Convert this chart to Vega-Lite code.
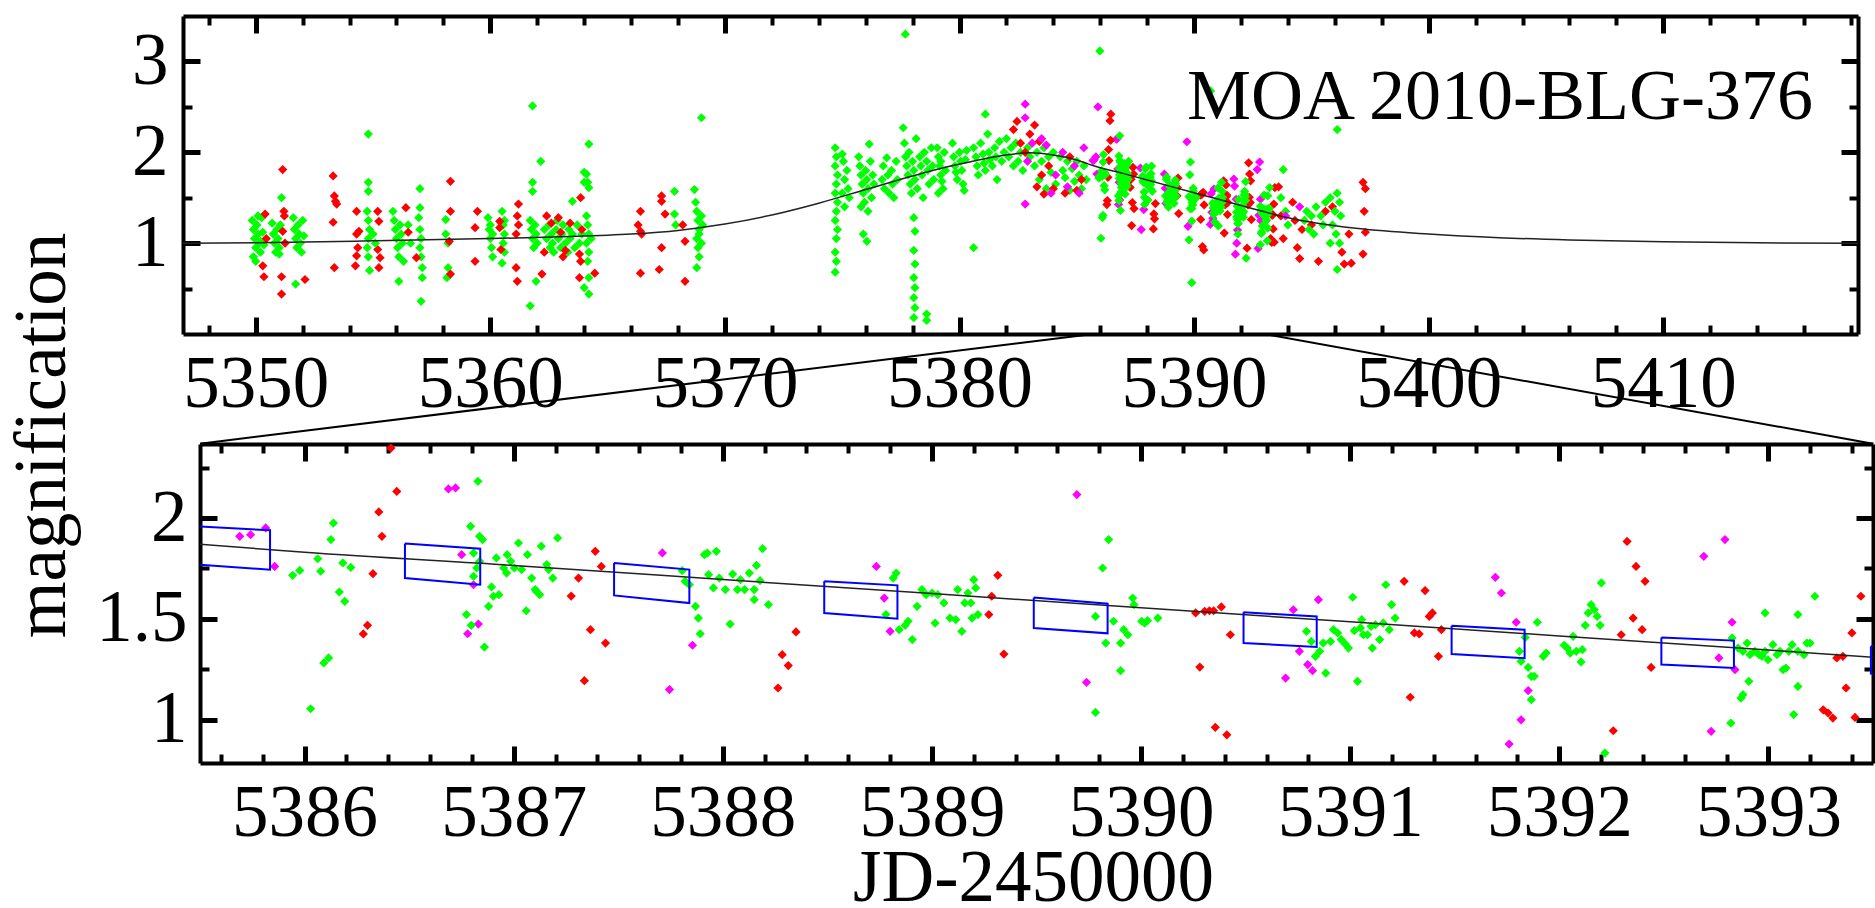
{
"$schema":"https://vega.github.io/schema/vega-lite/v6.json",
"background":"white",
"padding":{"left":6,"top":13,"right":0,"bottom":0},
"config":{"view":{"stroke":null}},
"datasets":{
"model":[{"t":5346.9,"m":1.0},{"t":5350,"m":1.005},{"t":5355,"m":1.025},{"t":5360,"m":1.05},{"t":5363,"m":1.07},{"t":5366,"m":1.1},{"t":5368,"m":1.14},{"t":5370,"m":1.21},{"t":5372,"m":1.31},{"t":5374,"m":1.44},{"t":5376,"m":1.59},{"t":5378,"m":1.74},{"t":5380,"m":1.87},{"t":5382,"m":1.97},{"t":5383,"m":1.995},{"t":5384,"m":1.97},{"t":5385,"m":1.915},{"t":5385.5,"m":1.87},{"t":5386,"m":1.83},{"t":5387,"m":1.765},{"t":5388,"m":1.695},{"t":5389,"m":1.625},{"t":5390,"m":1.555},{"t":5391,"m":1.485},{"t":5392,"m":1.415},{"t":5393,"m":1.345},{"t":5393.5,"m":1.31},{"t":5395,"m":1.23},{"t":5397,"m":1.16},{"t":5400,"m":1.1},{"t":5403,"m":1.06},{"t":5406,"m":1.035},{"t":5410,"m":1.015},{"t":5414,"m":1.003},{"t":5418.3,"m":1.0}],
"links":[{"t":5385.7,"m":0,"t2":5347.625,"m2":-1.2074},{"t":5393.0,"m":0,"t2":5418.94,"m2":-1.2074}],
"lbl":[{"t":5416.38,"m":2.363,"txt":"MOA 2010-BLG-376"}],
"boxes":[
{"b":1,"o":0,"t":5385.48,"m":1.959},{"b":1,"o":1,"t":5385.835,"m":1.939},{"b":1,"o":2,"t":5385.835,"m":1.744},{"b":1,"o":3,"t":5385.48,"m":1.769},{"b":1,"o":4,"t":5385.48,"m":1.959},
{"b":2,"o":0,"t":5386.48,"m":1.873},{"b":2,"o":1,"t":5386.84,"m":1.848},{"b":2,"o":2,"t":5386.84,"m":1.669},{"b":2,"o":3,"t":5386.48,"m":1.702},{"b":2,"o":4,"t":5386.48,"m":1.873},
{"b":3,"o":0,"t":5387.48,"m":1.777},{"b":3,"o":1,"t":5387.84,"m":1.744},{"b":3,"o":2,"t":5387.84,"m":1.578},{"b":3,"o":3,"t":5387.48,"m":1.616},{"b":3,"o":4,"t":5387.48,"m":1.777},
{"b":4,"o":0,"t":5388.485,"m":1.686},{"b":4,"o":1,"t":5388.835,"m":1.666},{"b":4,"o":2,"t":5388.835,"m":1.501},{"b":4,"o":3,"t":5388.485,"m":1.529},{"b":4,"o":4,"t":5388.485,"m":1.686},
{"b":5,"o":0,"t":5389.487,"m":1.606},{"b":5,"o":1,"t":5389.84,"m":1.575},{"b":5,"o":2,"t":5389.84,"m":1.428},{"b":5,"o":3,"t":5389.487,"m":1.454},{"b":5,"o":4,"t":5389.487,"m":1.606},
{"b":6,"o":0,"t":5390.49,"m":1.532},{"b":6,"o":1,"t":5390.84,"m":1.512},{"b":6,"o":2,"t":5390.84,"m":1.36},{"b":6,"o":3,"t":5390.49,"m":1.38},{"b":6,"o":4,"t":5390.49,"m":1.532},
{"b":7,"o":0,"t":5391.485,"m":1.466},{"b":7,"o":1,"t":5391.834,"m":1.446},{"b":7,"o":2,"t":5391.834,"m":1.305},{"b":7,"o":3,"t":5391.485,"m":1.325},{"b":7,"o":4,"t":5391.485,"m":1.466},
{"b":8,"o":0,"t":5392.488,"m":1.408},{"b":8,"o":1,"t":5392.835,"m":1.392},{"b":8,"o":2,"t":5392.835,"m":1.256},{"b":8,"o":3,"t":5392.488,"m":1.273},{"b":8,"o":4,"t":5392.488,"m":1.408},
{"b":9,"o":0,"t":5393.49,"m":1.364},{"b":9,"o":1,"t":5393.84,"m":1.35},{"b":9,"o":2,"t":5393.84,"m":1.21},{"b":9,"o":3,"t":5393.49,"m":1.228},{"b":9,"o":4,"t":5393.49,"m":1.364}],
"obs":[
{"t":5385.98,"m":3.115,"s":"G"},{"t":5390.7,"m":2.675,"s":"G"},{"t":5386.45,"m":2.42,"s":"R"},{"t":5389.9,"m":0.565,"s":"G"},{"t":5385.9,"m":2.5,"s":"M"},
{"t":5349.85,"m":1.25,"s":"G"},{"t":5349.9,"m":1.15,"s":"G"},{"t":5349.95,"m":1.05,"s":"G"},{"t":5350.0,"m":0.95,"s":"G"},{"t":5350.05,"m":1.2,"s":"G"},{"t":5350.1,"m":1.1,"s":"G"},{"t":5350.15,"m":1.0,"s":"G"},{"t":5350.2,"m":0.9,"s":"G"},{"t":5350.25,"m":1.28,"s":"G"},{"t":5350.3,"m":1.12,"s":"G"},{"t":5349.9,"m":0.85,"s":"G"},{"t":5350.0,"m":0.8,"s":"G"},{"t":5350.1,"m":1.3,"s":"G"},{"t":5350.2,"m":1.02,"s":"G"},{"t":5350.35,"m":0.98,"s":"G"},
{"t":5350.4,"m":1.32,"s":"R"},{"t":5350.3,"m":0.75,"s":"R"},{"t":5350.35,"m":0.63,"s":"R"},{"t":5350.45,"m":1.05,"s":"R"},
{"t":5350.7,"m":1.22,"s":"G"},{"t":5350.75,"m":1.1,"s":"G"},{"t":5350.8,"m":1.0,"s":"G"},{"t":5350.85,"m":0.9,"s":"G"},{"t":5350.9,"m":1.15,"s":"G"},{"t":5350.95,"m":1.05,"s":"G"},{"t":5351.0,"m":0.95,"s":"G"},{"t":5351.05,"m":1.2,"s":"G"},{"t":5351.1,"m":1.5,"s":"G"},{"t":5351.0,"m":0.88,"s":"G"},
{"t":5351.15,"m":1.81,"s":"R"},{"t":5351.2,"m":1.35,"s":"R"},{"t":5351.22,"m":1.3,"s":"R"},{"t":5351.15,"m":1.13,"s":"R"},{"t":5351.1,"m":0.63,"s":"R"},{"t":5351.1,"m":0.44,"s":"R"},{"t":5351.25,"m":1.0,"s":"R"},
{"t":5351.6,"m":1.28,"s":"G"},{"t":5351.65,"m":1.15,"s":"G"},{"t":5351.7,"m":1.05,"s":"G"},{"t":5351.75,"m":0.95,"s":"G"},{"t":5351.8,"m":1.2,"s":"G"},{"t":5351.85,"m":1.1,"s":"G"},{"t":5351.9,"m":1.0,"s":"G"},{"t":5351.95,"m":0.9,"s":"G"},{"t":5351.7,"m":0.55,"s":"G"},{"t":5352.0,"m":1.25,"s":"G"},{"t":5352.05,"m":1.08,"s":"G"},
{"t":5352.1,"m":0.6,"s":"R"},
{"t":5353.3,"m":1.74,"s":"R"},{"t":5353.35,"m":1.52,"s":"R"},{"t":5353.4,"m":1.46,"s":"R"},{"t":5353.45,"m":1.43,"s":"R"},{"t":5353.3,"m":1.23,"s":"R"},{"t":5353.35,"m":0.73,"s":"R"},
{"t":5354.3,"m":1.35,"s":"R"},{"t":5354.3,"m":1.1,"s":"R"},{"t":5354.35,"m":0.95,"s":"R"},{"t":5354.3,"m":0.86,"s":"R"},{"t":5354.25,"m":0.75,"s":"R"},{"t":5354.4,"m":1.13,"s":"R"},{"t":5355.2,"m":1.35,"s":"R"},{"t":5355.25,"m":1.24,"s":"R"},{"t":5355.2,"m":0.93,"s":"R"},{"t":5355.3,"m":0.84,"s":"R"},{"t":5355.25,"m":0.73,"s":"R"},
{"t":5354.8,"m":2.2,"s":"G"},{"t":5354.8,"m":1.67,"s":"G"},{"t":5354.8,"m":1.57,"s":"G"},{"t":5354.75,"m":1.35,"s":"G"},{"t":5354.8,"m":1.25,"s":"G"},{"t":5354.85,"m":1.15,"s":"G"},{"t":5354.8,"m":1.05,"s":"G"},{"t":5354.75,"m":0.95,"s":"G"},{"t":5354.8,"m":0.85,"s":"G"},{"t":5354.85,"m":0.7,"s":"G"},{"t":5355.0,"m":1.1,"s":"G"},{"t":5355.1,"m":1.0,"s":"G"},
{"t":5355.85,"m":1.35,"s":"G"},{"t":5355.9,"m":1.25,"s":"G"},{"t":5355.95,"m":1.15,"s":"G"},{"t":5356.0,"m":1.05,"s":"G"},{"t":5356.05,"m":0.95,"s":"G"},{"t":5356.1,"m":0.85,"s":"G"},{"t":5356.15,"m":1.2,"s":"G"},{"t":5356.2,"m":1.1,"s":"G"},{"t":5356.25,"m":1.0,"s":"G"},{"t":5356.3,"m":0.8,"s":"G"},{"t":5356.1,"m":0.58,"s":"G"},{"t":5357.0,"m":1.6,"s":"G"},{"t":5357.0,"m":1.39,"s":"G"},{"t":5356.95,"m":1.28,"s":"G"},{"t":5357.0,"m":1.15,"s":"G"},{"t":5357.05,"m":1.05,"s":"G"},{"t":5357.0,"m":0.95,"s":"G"},{"t":5357.05,"m":0.85,"s":"G"},{"t":5357.1,"m":0.73,"s":"G"},{"t":5357.1,"m":0.62,"s":"G"},{"t":5357.05,"m":0.36,"s":"G"},{"t":5356.5,"m":1.2,"s":"G"},{"t":5356.6,"m":1.0,"s":"G"},
{"t":5356.4,"m":1.39,"s":"R"},{"t":5356.85,"m":0.84,"s":"R"},{"t":5356.5,"m":1.12,"s":"R"},
{"t":5358.1,"m":1.26,"s":"G"},{"t":5358.1,"m":1.1,"s":"G"},{"t":5358.2,"m":0.73,"s":"G"},{"t":5358.15,"m":0.62,"s":"G"},{"t":5358.2,"m":1.0,"s":"G"},
{"t":5358.3,"m":1.68,"s":"R"},{"t":5358.3,"m":1.35,"s":"R"},{"t":5358.25,"m":1.02,"s":"R"},{"t":5358.3,"m":0.66,"s":"R"},
{"t":5359.45,"m":1.35,"s":"R"},{"t":5359.35,"m":1.17,"s":"R"},{"t":5359.35,"m":0.8,"s":"R"},
{"t":5359.9,"m":1.28,"s":"G"},{"t":5359.95,"m":1.15,"s":"G"},{"t":5360.0,"m":1.05,"s":"G"},{"t":5360.05,"m":0.95,"s":"G"},{"t":5360.1,"m":0.85,"s":"G"},{"t":5360.0,"m":1.2,"s":"G"},{"t":5360.1,"m":1.1,"s":"G"},{"t":5360.5,"m":1.35,"s":"G"},{"t":5360.55,"m":1.2,"s":"G"},{"t":5360.6,"m":1.1,"s":"G"},{"t":5360.55,"m":1.0,"s":"G"},{"t":5360.6,"m":0.9,"s":"G"},{"t":5360.5,"m":0.78,"s":"G"},{"t":5360.6,"m":1.25,"s":"G"},
{"t":5360.4,"m":1.24,"s":"R"},{"t":5360.4,"m":1.17,"s":"R"},{"t":5360.45,"m":0.93,"s":"R"},{"t":5361.2,"m":1.43,"s":"R"},{"t":5361.15,"m":1.3,"s":"R"},{"t":5361.2,"m":1.2,"s":"R"},{"t":5361.1,"m":1.1,"s":"R"},{"t":5361.1,"m":0.73,"s":"R"},{"t":5361.15,"m":0.58,"s":"R"},
{"t":5361.8,"m":2.51,"s":"G"},{"t":5361.8,"m":1.67,"s":"G"},{"t":5361.8,"m":1.57,"s":"G"},{"t":5361.7,"m":0.31,"s":"G"},{"t":5362.15,"m":1.9,"s":"G"},{"t":5361.95,"m":0.58,"s":"G"},
{"t":5361.7,"m":1.25,"s":"G"},{"t":5361.75,"m":1.15,"s":"G"},{"t":5361.8,"m":1.05,"s":"G"},{"t":5361.85,"m":0.95,"s":"G"},{"t":5361.9,"m":1.2,"s":"G"},{"t":5361.95,"m":1.1,"s":"G"},{"t":5362.0,"m":1.0,"s":"G"},{"t":5362.3,"m":1.15,"s":"G"},{"t":5362.4,"m":1.05,"s":"G"},{"t":5362.5,"m":1.2,"s":"G"},{"t":5362.55,"m":0.95,"s":"G"},{"t":5362.6,"m":1.1,"s":"G"},{"t":5362.65,"m":1.0,"s":"G"},{"t":5362.7,"m":0.9,"s":"G"},{"t":5362.8,"m":1.15,"s":"G"},{"t":5362.85,"m":1.25,"s":"G"},{"t":5362.9,"m":1.05,"s":"G"},{"t":5363.0,"m":0.95,"s":"G"},{"t":5363.05,"m":1.1,"s":"G"},{"t":5363.1,"m":1.2,"s":"G"},{"t":5363.2,"m":1.0,"s":"G"},{"t":5363.3,"m":0.9,"s":"G"},{"t":5363.35,"m":1.15,"s":"G"},{"t":5363.4,"m":1.05,"s":"G"},{"t":5363.5,"m":1.46,"s":"G"},{"t":5363.5,"m":1.1,"s":"G"},{"t":5363.6,"m":0.95,"s":"G"},{"t":5363.7,"m":1.2,"s":"G"},{"t":5363.8,"m":1.0,"s":"G"},{"t":5363.9,"m":1.1,"s":"G"},{"t":5364.0,"m":1.78,"s":"G"},{"t":5364.0,"m":1.67,"s":"G"},{"t":5364.1,"m":1.76,"s":"G"},{"t":5364.15,"m":1.67,"s":"G"},{"t":5364.2,"m":1.61,"s":"G"},{"t":5364.2,"m":2.09,"s":"G"},{"t":5364.1,"m":1.3,"s":"G"},{"t":5364.15,"m":1.2,"s":"G"},{"t":5364.2,"m":1.1,"s":"G"},{"t":5364.1,"m":1.0,"s":"G"},{"t":5364.2,"m":0.9,"s":"G"},{"t":5364.15,"m":0.8,"s":"G"},{"t":5364.2,"m":0.62,"s":"G"},{"t":5364.2,"m":0.44,"s":"G"},{"t":5364.0,"m":0.51,"s":"G"},{"t":5364.3,"m":1.05,"s":"G"},
{"t":5362.2,"m":0.66,"s":"R"},{"t":5362.4,"m":1.3,"s":"R"},{"t":5362.6,"m":1.22,"s":"R"},{"t":5362.9,"m":1.28,"s":"R"},{"t":5363.0,"m":1.12,"s":"R"},{"t":5363.2,"m":0.92,"s":"R"},{"t":5363.4,"m":1.22,"s":"R"},{"t":5363.85,"m":1.5,"s":"R"},{"t":5363.8,"m":0.88,"s":"R"},{"t":5363.85,"m":0.8,"s":"R"},{"t":5363.8,"m":0.62,"s":"R"},{"t":5363.9,"m":1.15,"s":"R"},{"t":5364.45,"m":0.67,"s":"R"},{"t":5362.3,"m":0.9,"s":"R"},{"t":5363.1,"m":0.85,"s":"R"},
{"t":5366.4,"m":1.35,"s":"R"},{"t":5366.4,"m":1.13,"s":"R"},{"t":5366.45,"m":1.1,"s":"R"},{"t":5366.4,"m":0.67,"s":"R"},{"t":5366.3,"m":1.2,"s":"R"},
{"t":5367.3,"m":1.52,"s":"R"},{"t":5367.3,"m":1.46,"s":"R"},{"t":5367.45,"m":1.32,"s":"R"},{"t":5367.3,"m":0.95,"s":"R"},{"t":5367.2,"m":0.71,"s":"R"},{"t":5367.85,"m":1.57,"s":"G"},{"t":5367.85,"m":1.32,"s":"G"},{"t":5367.9,"m":1.2,"s":"G"},
{"t":5368.3,"m":1.02,"s":"R"},{"t":5368.3,"m":0.58,"s":"R"},{"t":5368.2,"m":1.2,"s":"R"},
{"t":5368.7,"m":1.59,"s":"G"},{"t":5368.75,"m":1.45,"s":"G"},{"t":5368.8,"m":1.35,"s":"G"},{"t":5368.85,"m":1.25,"s":"G"},{"t":5368.9,"m":1.15,"s":"G"},{"t":5368.8,"m":1.05,"s":"G"},{"t":5368.85,"m":0.95,"s":"G"},{"t":5368.9,"m":0.85,"s":"G"},{"t":5368.8,"m":0.73,"s":"G"},{"t":5369.0,"m":1.3,"s":"G"},{"t":5369.05,"m":1.2,"s":"G"},{"t":5369.0,"m":2.38,"s":"G"},{"t":5368.9,"m":1.1,"s":"G"},{"t":5369.0,"m":1.0,"s":"G"},
{"t":5374.7,"m":2.05,"s":"G"},{"t":5374.75,"m":1.95,"s":"G"},{"t":5374.7,"m":1.85,"s":"G"},{"t":5374.8,"m":1.75,"s":"G"},{"t":5374.75,"m":1.65,"s":"G"},{"t":5374.7,"m":1.55,"s":"G"},{"t":5374.8,"m":1.45,"s":"G"},{"t":5374.75,"m":1.35,"s":"G"},{"t":5374.7,"m":1.25,"s":"G"},{"t":5374.8,"m":1.15,"s":"G"},{"t":5374.75,"m":1.05,"s":"G"},{"t":5374.7,"m":0.9,"s":"G"},{"t":5374.75,"m":0.8,"s":"G"},{"t":5374.7,"m":0.68,"s":"G"},{"t":5375.0,"m":1.98,"s":"G"},{"t":5375.05,"m":1.9,"s":"G"},{"t":5375.1,"m":1.7,"s":"G"},{"t":5375.0,"m":1.55,"s":"G"},{"t":5375.1,"m":1.4,"s":"G"},{"t":5375.2,"m":1.8,"s":"G"},{"t":5375.25,"m":1.6,"s":"G"},{"t":5375.3,"m":1.5,"s":"G"},
{"t":5375.7,"m":1.95,"s":"G"},{"t":5375.75,"m":1.85,"s":"G"},{"t":5375.8,"m":1.75,"s":"G"},{"t":5375.85,"m":1.65,"s":"G"},{"t":5375.9,"m":1.55,"s":"G"},{"t":5375.95,"m":1.45,"s":"G"},{"t":5376.0,"m":1.8,"s":"G"},{"t":5376.05,"m":1.7,"s":"G"},{"t":5376.1,"m":1.6,"s":"G"},{"t":5376.15,"m":2.09,"s":"G"},{"t":5376.2,"m":1.9,"s":"G"},{"t":5376.25,"m":1.5,"s":"G"},{"t":5376.3,"m":1.75,"s":"G"},{"t":5376.35,"m":1.65,"s":"G"},{"t":5375.9,"m":1.1,"s":"G"},{"t":5376.05,"m":1.02,"s":"G"},{"t":5376.1,"m":1.35,"s":"G"},{"t":5375.8,"m":1.4,"s":"G"},
{"t":5376.7,"m":1.7,"s":"G"},{"t":5376.75,"m":1.85,"s":"G"},{"t":5376.8,"m":1.6,"s":"G"},{"t":5376.9,"m":1.94,"s":"G"},{"t":5376.95,"m":1.75,"s":"G"},{"t":5377.0,"m":1.55,"s":"G"},{"t":5377.1,"m":1.8,"s":"G"},{"t":5377.15,"m":1.65,"s":"G"},{"t":5377.2,"m":1.5,"s":"G"},{"t":5377.3,"m":1.9,"s":"G"},{"t":5377.35,"m":1.7,"s":"G"},
{"t":5377.6,"m":2.27,"s":"G"},{"t":5377.65,"m":2.1,"s":"G"},{"t":5377.7,"m":1.95,"s":"G"},{"t":5377.75,"m":1.85,"s":"G"},{"t":5377.8,"m":1.75,"s":"G"},{"t":5377.85,"m":2.0,"s":"G"},{"t":5377.9,"m":1.65,"s":"G"},{"t":5377.95,"m":1.55,"s":"G"},{"t":5378.0,"m":1.9,"s":"G"},{"t":5378.05,"m":1.8,"s":"G"},{"t":5378.1,"m":1.7,"s":"G"},{"t":5378.15,"m":2.15,"s":"G"},{"t":5378.2,"m":1.6,"s":"G"},{"t":5378.3,"m":1.95,"s":"G"},{"t":5378.35,"m":1.85,"s":"G"},{"t":5378.4,"m":1.75,"s":"G"},{"t":5378.45,"m":1.5,"s":"G"},{"t":5378.5,"m":2.0,"s":"G"},{"t":5378.6,"m":1.9,"s":"G"},{"t":5378.65,"m":1.8,"s":"G"},{"t":5378.7,"m":1.65,"s":"G"},{"t":5378.8,"m":2.05,"s":"G"},{"t":5378.85,"m":1.85,"s":"G"},{"t":5378.9,"m":1.7,"s":"G"},{"t":5377.69,"m":3.3,"s":"G"},
{"t":5378.05,"m":1.28,"s":"G"},{"t":5378.1,"m":1.13,"s":"G"},{"t":5378.05,"m":0.92,"s":"G"},{"t":5378.1,"m":0.77,"s":"G"},{"t":5378.05,"m":0.62,"s":"G"},{"t":5378.1,"m":0.51,"s":"G"},{"t":5378.05,"m":0.4,"s":"G"},{"t":5378.1,"m":0.29,"s":"G"},{"t":5378.05,"m":0.18,"s":"G"},{"t":5378.6,"m":0.22,"s":"G"},{"t":5378.6,"m":0.15,"s":"G"},
{"t":5379.05,"m":2.05,"s":"G"},{"t":5379.1,"m":1.95,"s":"G"},{"t":5379.15,"m":1.85,"s":"G"},{"t":5379.2,"m":1.75,"s":"G"},{"t":5379.25,"m":1.68,"s":"G"},{"t":5379.3,"m":1.6,"s":"G"},{"t":5379.1,"m":1.55,"s":"G"},{"t":5379.2,"m":1.9,"s":"G"},{"t":5379.35,"m":2.0,"s":"G"},{"t":5379.4,"m":1.8,"s":"G"},
{"t":5379.7,"m":2.1,"s":"G"},{"t":5379.75,"m":1.95,"s":"G"},{"t":5379.8,"m":1.85,"s":"G"},{"t":5379.85,"m":1.78,"s":"G"},{"t":5379.9,"m":1.7,"s":"G"},{"t":5380.0,"m":2.0,"s":"G"},{"t":5380.05,"m":1.9,"s":"G"},{"t":5380.1,"m":1.8,"s":"G"},{"t":5380.15,"m":1.65,"s":"G"},{"t":5380.2,"m":1.58,"s":"G"},{"t":5380.25,"m":1.92,"s":"G"},{"t":5380.3,"m":2.02,"s":"G"},
{"t":5380.6,"m":2.05,"s":"G"},{"t":5380.7,"m":1.95,"s":"G"},{"t":5380.75,"m":1.85,"s":"G"},{"t":5380.8,"m":1.75,"s":"G"},{"t":5380.9,"m":2.1,"s":"G"},{"t":5381.0,"m":1.98,"s":"G"},{"t":5381.05,"m":1.88,"s":"G"},{"t":5381.1,"m":1.8,"s":"G"},{"t":5381.2,"m":2.2,"s":"G"},{"t":5381.25,"m":2.0,"s":"G"},{"t":5381.3,"m":1.92,"s":"G"},{"t":5381.4,"m":1.85,"s":"G"},{"t":5381.5,"m":2.05,"s":"G"},{"t":5381.55,"m":1.95,"s":"G"},{"t":5381.6,"m":1.7,"s":"G"},{"t":5381.7,"m":2.12,"s":"G"},{"t":5381.8,"m":1.9,"s":"G"},{"t":5380.6,"m":0.95,"s":"G"},{"t":5381.1,"m":2.42,"s":"G"},
{"t":5381.9,"m":2.0,"s":"G"},{"t":5382.0,"m":2.15,"s":"G"},{"t":5382.1,"m":1.95,"s":"G"},{"t":5382.2,"m":2.05,"s":"G"},{"t":5382.3,"m":1.85,"s":"G"},{"t":5382.4,"m":2.1,"s":"G"},{"t":5382.5,"m":1.9,"s":"G"},{"t":5382.6,"m":2.0,"s":"G"},{"t":5382.7,"m":1.8,"s":"G"},{"t":5382.9,"m":2.05,"s":"G"},{"t":5383.0,"m":1.95,"s":"G"},
{"t":5382.3,"m":2.25,"s":"R"},{"t":5382.45,"m":2.34,"s":"R"},{"t":5382.6,"m":2.1,"s":"R"},{"t":5382.8,"m":2.0,"s":"R"},{"t":5383.0,"m":2.2,"s":"R"},{"t":5383.2,"m":2.3,"s":"R"},
{"t":5382.8,"m":2.53,"s":"M"},{"t":5382.8,"m":2.38,"s":"M"},{"t":5382.8,"m":1.43,"s":"M"},{"t":5382.9,"m":1.9,"s":"M"},{"t":5383.1,"m":2.1,"s":"M"},
{"t":5383.2,"m":1.85,"s":"G"},{"t":5383.3,"m":2.0,"s":"G"},{"t":5383.4,"m":1.7,"s":"G"},{"t":5383.5,"m":1.9,"s":"G"},{"t":5383.6,"m":2.05,"s":"G"},{"t":5383.7,"m":1.6,"s":"G"},{"t":5383.8,"m":1.95,"s":"G"},{"t":5383.9,"m":1.78,"s":"G"},{"t":5384.0,"m":2.0,"s":"G"},{"t":5384.1,"m":1.65,"s":"G"},
{"t":5383.3,"m":1.62,"s":"R"},{"t":5383.5,"m":1.75,"s":"R"},{"t":5383.6,"m":1.54,"s":"R"},{"t":5383.8,"m":1.85,"s":"R"},{"t":5384.0,"m":1.6,"s":"R"},{"t":5383.4,"m":2.12,"s":"R"},
{"t":5383.5,"m":2.15,"s":"M"},{"t":5383.7,"m":2.08,"s":"M"},{"t":5383.9,"m":1.55,"s":"M"},{"t":5384.1,"m":1.75,"s":"M"},
{"t":5384.3,"m":1.95,"s":"G"},{"t":5384.4,"m":1.8,"s":"G"},{"t":5384.5,"m":1.72,"s":"G"},{"t":5384.6,"m":1.9,"s":"G"},{"t":5384.7,"m":1.58,"s":"G"},{"t":5384.8,"m":1.82,"s":"G"},{"t":5384.9,"m":1.68,"s":"G"},{"t":5385.0,"m":1.9,"s":"G"},{"t":5385.1,"m":1.75,"s":"G"},{"t":5385.2,"m":1.6,"s":"G"},{"t":5385.3,"m":1.85,"s":"G"},{"t":5385.4,"m":1.7,"s":"G"},
{"t":5384.5,"m":1.55,"s":"R"},{"t":5384.7,"m":1.95,"s":"R"},{"t":5385.0,"m":1.58,"s":"R"},{"t":5385.2,"m":1.7,"s":"R"},
{"t":5384.4,"m":2.0,"s":"M"},{"t":5384.6,"m":1.62,"s":"M"},{"t":5384.9,"m":1.85,"s":"M"},{"t":5385.1,"m":1.55,"s":"M"},{"t":5385.3,"m":2.05,"s":"M"},
{"t":5385.69,"m":1.909,"s":"M"},{"t":5385.742,"m":1.917,"s":"M"},{"t":5385.814,"m":1.951,"s":"M"},{"t":5385.857,"m":1.76,"s":"M"},{"t":5386.751,"m":1.818,"s":"M"},{"t":5386.688,"m":2.144,"s":"M"},{"t":5386.722,"m":2.149,"s":"M"},{"t":5386.808,"m":1.669,"s":"M"},{"t":5386.831,"m":1.474,"s":"M"},{"t":5386.78,"m":1.426,"s":"M"},{"t":5387.711,"m":1.827,"s":"M"},{"t":5387.745,"m":1.149,"s":"M"},{"t":5387.855,"m":1.369,"s":"M"},{"t":5388.734,"m":1.76,"s":"M"},{"t":5388.772,"m":1.603,"s":"M"},{"t":5388.8,"m":1.438,"s":"M"},{"t":5389.693,"m":2.116,"s":"M"},{"t":5389.739,"m":1.185,"s":"M"},{"t":5390.728,"m":1.545,"s":"M"},{"t":5390.691,"m":1.206,"s":"M"},{"t":5390.757,"m":1.339,"s":"M"},{"t":5390.797,"m":1.273,"s":"M"},{"t":5390.82,"m":1.243,"s":"M"},{"t":5390.848,"m":1.595,"s":"M"},{"t":5391.694,"m":1.706,"s":"M"},{"t":5391.723,"m":1.628,"s":"M"},{"t":5391.794,"m":1.483,"s":"M"},{"t":5391.851,"m":1.144,"s":"M"},{"t":5391.817,"m":0.999,"s":"M"},{"t":5391.76,"m":0.879,"s":"M"},{"t":5392.691,"m":1.81,"s":"M"},{"t":5392.792,"m":1.893,"s":"M"},{"t":5392.826,"m":1.483,"s":"M"},{"t":5392.763,"m":1.306,"s":"M"},{"t":5392.84,"m":1.248,"s":"M"},{"t":5392.726,"m":0.942,"s":"M"},
{"t":5386.413,"m":2.347,"s":"R"},{"t":5386.441,"m":2.132,"s":"R"},{"t":5386.355,"m":2.03,"s":"R"},{"t":5386.37,"m":1.909,"s":"R"},{"t":5386.327,"m":1.724,"s":"R"},{"t":5386.301,"m":1.468,"s":"R"},{"t":5386.281,"m":1.425,"s":"R"},{"t":5387.31,"m":1.702,"s":"R"},{"t":5387.275,"m":1.613,"s":"R"},{"t":5387.39,"m":1.835,"s":"R"},{"t":5387.419,"m":1.76,"s":"R"},{"t":5387.367,"m":1.446,"s":"R"},{"t":5387.439,"m":1.38,"s":"R"},{"t":5387.338,"m":1.193,"s":"R"},{"t":5388.284,"m":1.322,"s":"R"},{"t":5388.313,"m":1.268,"s":"R"},{"t":5388.264,"m":1.157,"s":"R"},{"t":5388.35,"m":1.435,"s":"R"},{"t":5389.315,"m":1.716,"s":"R"},{"t":5389.286,"m":1.612,"s":"R"},{"t":5389.272,"m":1.521,"s":"R"},{"t":5389.344,"m":1.325,"s":"R"},{"t":5390.261,"m":1.529,"s":"R"},{"t":5390.304,"m":1.537,"s":"R"},{"t":5390.327,"m":1.54,"s":"R"},{"t":5390.347,"m":1.54,"s":"R"},{"t":5390.384,"m":1.559,"s":"R"},{"t":5390.427,"m":1.421,"s":"R"},{"t":5390.281,"m":1.261,"s":"R"},{"t":5390.355,"m":0.962,"s":"R"},{"t":5390.41,"m":0.925,"s":"R"},{"t":5391.258,"m":1.686,"s":"R"},{"t":5391.358,"m":1.64,"s":"R"},{"t":5391.378,"m":1.512,"s":"R"},{"t":5391.393,"m":1.529,"s":"R"},{"t":5391.307,"m":1.43,"s":"R"},{"t":5391.33,"m":1.425,"s":"R"},{"t":5391.436,"m":1.446,"s":"R"},{"t":5391.422,"m":1.314,"s":"R"},{"t":5391.287,"m":1.111,"s":"R"},{"t":5392.324,"m":1.884,"s":"R"},{"t":5392.367,"m":1.76,"s":"R"},{"t":5392.41,"m":1.686,"s":"R"},{"t":5392.353,"m":1.504,"s":"R"},{"t":5392.396,"m":1.446,"s":"R"},{"t":5392.296,"m":1.421,"s":"R"},{"t":5392.439,"m":1.259,"s":"R"},{"t":5392.258,"m":0.945,"s":"R"},{"t":5393.327,"m":1.306,"s":"R"},{"t":5393.356,"m":1.314,"s":"R"},{"t":5393.399,"m":1.43,"s":"R"},{"t":5393.442,"m":1.612,"s":"R"},{"t":5393.371,"m":1.157,"s":"R"},{"t":5393.262,"m":1.049,"s":"R"},{"t":5393.285,"m":1.033,"s":"R"},{"t":5393.308,"m":1.008,"s":"R"},{"t":5393.414,"m":1.011,"s":"R"},
{"t":5386.029,"m":1.054,"s":"G"},{"t":5386.092,"m":1.281,"s":"G"},{"t":5386.115,"m":1.306,"s":"G"},{"t":5385.943,"m":1.716,"s":"G"},{"t":5385.977,"m":1.74,"s":"G"},{"t":5386.063,"m":1.798,"s":"G"},{"t":5386.077,"m":1.736,"s":"G"},{"t":5386.138,"m":1.975,"s":"G"},{"t":5386.126,"m":1.893,"s":"G"},{"t":5386.183,"m":1.777,"s":"G"},{"t":5386.221,"m":1.755,"s":"G"},{"t":5386.166,"m":1.633,"s":"G"},{"t":5386.192,"m":1.587,"s":"G"},{"t":5386.829,"m":2.182,"s":"G"},{"t":5386.794,"m":1.959,"s":"G"},{"t":5386.837,"m":1.909,"s":"G"},{"t":5386.851,"m":1.893,"s":"G"},{"t":5386.808,"m":1.826,"s":"G"},{"t":5386.837,"m":1.785,"s":"G"},{"t":5386.823,"m":1.752,"s":"G"},{"t":5386.808,"m":1.711,"s":"G"},{"t":5386.774,"m":1.521,"s":"G"},{"t":5386.797,"m":1.468,"s":"G"},{"t":5386.86,"m":1.36,"s":"G"},{"t":5386.88,"m":1.562,"s":"G"},{"t":5386.903,"m":1.612,"s":"G"},{"t":5386.894,"m":1.658,"s":"G"},{"t":5386.929,"m":1.62,"s":"G"},{"t":5386.917,"m":1.802,"s":"G"},{"t":5386.952,"m":1.752,"s":"G"},{"t":5386.969,"m":1.818,"s":"G"},{"t":5386.986,"m":1.785,"s":"G"},{"t":5387.003,"m":1.752,"s":"G"},{"t":5387.023,"m":1.876,"s":"G"},{"t":5387.038,"m":1.744,"s":"G"},{"t":5387.066,"m":1.818,"s":"G"},{"t":5387.086,"m":1.702,"s":"G"},{"t":5387.103,"m":1.645,"s":"G"},{"t":5387.124,"m":1.62,"s":"G"},{"t":5387.132,"m":1.86,"s":"G"},{"t":5387.158,"m":1.769,"s":"G"},{"t":5387.167,"m":1.744,"s":"G"},{"t":5387.187,"m":1.702,"s":"G"},{"t":5387.21,"m":1.901,"s":"G"},{"t":5387.06,"m":1.54,"s":"G"},{"t":5387.109,"m":1.636,"s":"G"},{"t":5386.966,"m":1.727,"s":"G"},
{"t":5387.806,"m":1.739,"s":"G"},{"t":5387.82,"m":1.686,"s":"G"},{"t":5387.84,"m":1.669,"s":"G"},{"t":5387.869,"m":1.562,"s":"G"},{"t":5387.883,"m":1.504,"s":"G"},{"t":5387.892,"m":1.426,"s":"G"},{"t":5387.912,"m":1.818,"s":"G"},{"t":5387.926,"m":1.826,"s":"G"},{"t":5387.969,"m":1.835,"s":"G"},{"t":5387.932,"m":1.719,"s":"G"},{"t":5387.955,"m":1.653,"s":"G"},{"t":5387.983,"m":1.702,"s":"G"},{"t":5388.012,"m":1.645,"s":"G"},{"t":5388.035,"m":1.474,"s":"G"},{"t":5388.047,"m":1.722,"s":"G"},{"t":5388.07,"m":1.645,"s":"G"},{"t":5388.084,"m":1.694,"s":"G"},{"t":5388.104,"m":1.645,"s":"G"},{"t":5388.127,"m":1.727,"s":"G"},{"t":5388.15,"m":1.645,"s":"G"},{"t":5388.161,"m":1.765,"s":"G"},{"t":5388.178,"m":1.689,"s":"G"},{"t":5388.19,"m":1.848,"s":"G"},{"t":5388.218,"m":1.57,"s":"G"},{"t":5388.15,"m":1.595,"s":"G"},
{"t":5388.829,"m":1.727,"s":"G"},{"t":5388.815,"m":1.702,"s":"G"},{"t":5388.78,"m":1.521,"s":"G"},{"t":5388.843,"m":1.446,"s":"G"},{"t":5388.872,"m":1.468,"s":"G"},{"t":5388.906,"m":1.397,"s":"G"},{"t":5388.886,"m":1.488,"s":"G"},{"t":5388.952,"m":1.645,"s":"G"},{"t":5388.972,"m":1.62,"s":"G"},{"t":5389.001,"m":1.628,"s":"G"},{"t":5388.929,"m":1.562,"s":"G"},{"t":5389.015,"m":1.479,"s":"G"},{"t":5389.028,"m":1.62,"s":"G"},{"t":5389.057,"m":1.579,"s":"G"},{"t":5389.086,"m":1.504,"s":"G"},{"t":5389.114,"m":1.496,"s":"G"},{"t":5389.123,"m":1.645,"s":"G"},{"t":5389.143,"m":1.438,"s":"G"},{"t":5389.157,"m":1.579,"s":"G"},{"t":5389.172,"m":1.628,"s":"G"},{"t":5389.192,"m":1.504,"s":"G"},{"t":5389.2,"m":1.694,"s":"G"},{"t":5389.209,"m":1.653,"s":"G"},{"t":5389.22,"m":1.521,"s":"G"},{"t":5389.186,"m":1.579,"s":"G"},
{"t":5389.845,"m":1.893,"s":"G"},{"t":5389.816,"m":1.752,"s":"G"},{"t":5389.782,"m":1.512,"s":"G"},{"t":5389.831,"m":1.38,"s":"G"},{"t":5389.868,"m":1.488,"s":"G"},{"t":5389.902,"m":1.38,"s":"G"},{"t":5389.782,"m":1.036,"s":"G"},{"t":5389.902,"m":1.243,"s":"G"},{"t":5389.917,"m":1.446,"s":"G"},{"t":5389.937,"m":1.421,"s":"G"},{"t":5389.96,"m":1.603,"s":"G"},{"t":5389.966,"m":1.57,"s":"G"},{"t":5390.003,"m":1.488,"s":"G"},{"t":5390.017,"m":1.479,"s":"G"},{"t":5390.031,"m":1.491,"s":"G"},{"t":5390.08,"m":1.504,"s":"G"},
{"t":5390.791,"m":1.438,"s":"G"},{"t":5390.814,"m":1.388,"s":"G"},{"t":5390.834,"m":1.314,"s":"G"},{"t":5390.854,"m":1.339,"s":"G"},{"t":5390.883,"m":1.231,"s":"G"},{"t":5390.871,"m":1.38,"s":"G"},{"t":5390.906,"m":1.388,"s":"G"},{"t":5390.92,"m":1.446,"s":"G"},{"t":5390.94,"m":1.43,"s":"G"},{"t":5390.957,"m":1.397,"s":"G"},{"t":5390.977,"m":1.375,"s":"G"},{"t":5390.992,"m":1.355,"s":"G"},{"t":5391.012,"m":1.607,"s":"G"},{"t":5391.035,"m":1.19,"s":"G"},{"t":5391.049,"m":1.455,"s":"G"},{"t":5391.063,"m":1.421,"s":"G"},{"t":5391.083,"m":1.421,"s":"G"},{"t":5391.1,"m":1.463,"s":"G"},{"t":5391.106,"m":1.355,"s":"G"},{"t":5391.121,"m":1.471,"s":"G"},{"t":5391.141,"m":1.397,"s":"G"},{"t":5391.158,"m":1.479,"s":"G"},{"t":5391.17,"m":1.669,"s":"G"},{"t":5391.187,"m":1.446,"s":"G"},{"t":5391.198,"m":1.57,"s":"G"},{"t":5391.215,"m":1.504,"s":"G"},{"t":5391.02,"m":1.441,"s":"G"},{"t":5391.055,"m":1.496,"s":"G"},
{"t":5391.809,"m":1.339,"s":"G"},{"t":5391.817,"m":1.289,"s":"G"},{"t":5391.851,"m":1.259,"s":"G"},{"t":5391.866,"m":1.215,"s":"G"},{"t":5391.88,"m":1.215,"s":"G"},{"t":5391.866,"m":1.099,"s":"G"},{"t":5391.837,"m":1.408,"s":"G"},{"t":5391.895,"m":1.483,"s":"G"},{"t":5391.923,"m":1.314,"s":"G"},{"t":5391.937,"m":1.33,"s":"G"},{"t":5392.023,"m":1.369,"s":"G"},{"t":5392.038,"m":1.355,"s":"G"},{"t":5392.052,"m":1.33,"s":"G"},{"t":5392.066,"m":1.413,"s":"G"},{"t":5392.081,"m":1.339,"s":"G"},{"t":5392.104,"m":1.286,"s":"G"},{"t":5392.11,"m":1.347,"s":"G"},{"t":5392.124,"m":1.468,"s":"G"},{"t":5392.138,"m":1.529,"s":"G"},{"t":5392.152,"m":1.57,"s":"G"},{"t":5392.167,"m":1.545,"s":"G"},{"t":5392.181,"m":1.512,"s":"G"},{"t":5392.195,"m":1.468,"s":"G"},{"t":5392.201,"m":1.678,"s":"G"},{"t":5392.218,"m":0.834,"s":"G"},
{"t":5392.82,"m":0.983,"s":"G"},{"t":5392.826,"m":1.405,"s":"G"},{"t":5392.855,"m":1.355,"s":"G"},{"t":5392.878,"m":1.339,"s":"G"},{"t":5392.898,"m":1.38,"s":"G"},{"t":5392.912,"m":1.322,"s":"G"},{"t":5392.935,"m":1.339,"s":"G"},{"t":5392.955,"m":1.322,"s":"G"},{"t":5392.969,"m":1.314,"s":"G"},{"t":5392.984,"m":1.339,"s":"G"},{"t":5392.998,"m":1.297,"s":"G"},{"t":5393.021,"m":1.372,"s":"G"},{"t":5393.041,"m":1.322,"s":"G"},{"t":5393.055,"m":1.339,"s":"G"},{"t":5393.07,"m":1.248,"s":"G"},{"t":5393.084,"m":1.256,"s":"G"},{"t":5393.098,"m":1.339,"s":"G"},{"t":5393.113,"m":1.372,"s":"G"},{"t":5393.141,"m":1.339,"s":"G"},{"t":5393.17,"m":1.322,"s":"G"},{"t":5393.184,"m":1.38,"s":"G"},{"t":5393.199,"m":1.38,"s":"G"},{"t":5392.984,"m":1.529,"s":"G"},{"t":5393.141,"m":1.521,"s":"G"},{"t":5393.222,"m":1.612,"s":"G"},{"t":5392.906,"m":1.19,"s":"G"},{"t":5392.878,"m":1.124,"s":"G"},{"t":5392.869,"m":1.107,"s":"G"},{"t":5393.141,"m":1.165,"s":"G"},{"t":5393.121,"m":1.025,"s":"G"},
{"t":5393.6,"m":1.62,"s":"R"},{"t":5393.7,"m":1.3,"s":"R"},{"t":5393.8,"m":1.05,"s":"R"},{"t":5394.2,"m":1.45,"s":"R"},{"t":5394.3,"m":1.25,"s":"R"},{"t":5394.4,"m":0.95,"s":"R"},{"t":5394.5,"m":0.83,"s":"R"},{"t":5394.6,"m":1.15,"s":"R"},{"t":5395.0,"m":1.2,"s":"R"},{"t":5395.3,"m":0.8,"s":"R"},{"t":5395.6,"m":1.35,"s":"R"},{"t":5395.9,"m":1.4,"s":"R"},{"t":5396.3,"m":0.9,"s":"R"},{"t":5396.4,"m":0.77,"s":"R"},{"t":5396.6,"m":1.1,"s":"R"},{"t":5397.2,"m":1.67,"s":"R"},{"t":5397.3,"m":1.6,"s":"R"},{"t":5397.25,"m":1.35,"s":"R"},{"t":5397.3,"m":1.12,"s":"R"},{"t":5397.2,"m":0.88,"s":"R"},{"t":5396.7,"m":0.78,"s":"R"},
{"t":5393.8,"m":1.81,"s":"G"},{"t":5393.7,"m":1.5,"s":"G"},{"t":5393.9,"m":1.35,"s":"G"},{"t":5394.0,"m":1.2,"s":"G"},{"t":5394.7,"m":1.25,"s":"G"},{"t":5394.8,"m":1.35,"s":"G"},{"t":5394.9,"m":1.15,"s":"G"},{"t":5395.0,"m":1.3,"s":"G"},{"t":5395.1,"m":1.1,"s":"G"},{"t":5395.2,"m":1.4,"s":"G"},{"t":5395.4,"m":1.3,"s":"G"},{"t":5395.5,"m":1.2,"s":"G"},{"t":5395.6,"m":1.45,"s":"G"},{"t":5395.8,"m":1.5,"s":"G"},{"t":5395.9,"m":1.2,"s":"G"},{"t":5396.0,"m":1.35,"s":"G"},{"t":5396.05,"m":1.1,"s":"G"},{"t":5396.1,"m":1.55,"s":"G"},{"t":5396.2,"m":1.45,"s":"G"},{"t":5396.2,"m":1.0,"s":"G"},{"t":5396.1,"m":2.25,"s":"G"},{"t":5396.1,"m":0.71,"s":"G"},{"t":5395.8,"m":1.0,"s":"G"},{"t":5396.25,"m":1.3,"s":"G"},
{"t":5393.9,"m":1.3,"s":"M"},{"t":5394.5,"m":1.4,"s":"M"}
]},
"vconcat":[
{"width":1675,"height":318,
 "layer":[
  {"data":{"name":"obs"},
   "mark":{"type":"point","shape":"diamond","filled":true,"size":85,"opacity":1,"strokeWidth":0},
   "encoding":{
    "x":{"field":"t","type":"quantitative","scale":{"domain":[5346.9,5418.3],"nice":false,"zero":false},
     "axis":{"orient":"bottom","title":null,"values":[5350,5360,5370,5380,5390,5400,5410],"format":"d","tickSize":-17,"labelPadding":31,
      "domainColor":"black","domainWidth":4,"tickColor":"black","tickWidth":5,"grid":false,"labelFont":"Liberation Serif","labelFontSize":73,"labelColor":"black","labelFlush":false,"labelOverlap":false,"labelBound":false}},
    "y":{"field":"m","type":"quantitative","scale":{"domain":[0,3.5],"nice":false,"zero":false},
     "axis":{"orient":"left","values":[1,2,3],"format":"d","tickSize":-17,"labelPadding":32,
      "domainColor":"black","domainWidth":4,"tickColor":"black","tickWidth":5,"grid":false,"labelFont":"Liberation Serif","labelFontSize":73,"labelColor":"black","labelFlush":false,"labelOverlap":false,"labelBound":false,
      "title":"magnification","titleFont":"Liberation Serif","titleFontWeight":"normal","titleColor":"black","titleFontSize":73,"titleAngle":-90,"titleBaseline":"alphabetic","titleAlign":"center","titleX":-119,"titleY":419}},
    "color":{"field":"s","type":"nominal","scale":{"domain":["R","G","M"],"range":["#ff0000","#00ff00","#ff00ff"]},"legend":null}}},
  {"data":{"name":"model"},
   "mark":{"type":"line","color":"#222222","strokeWidth":1.5,"interpolate":"monotone"},
   "encoding":{
    "x":{"field":"t","type":"quantitative","axis":{"orient":"top","title":null,"labels":false,"values":[5350,5360,5370,5380,5390,5400,5410],"tickSize":-17,"domainColor":"black","domainWidth":4,"tickColor":"black","tickWidth":5,"grid":false}},
    "y":{"field":"m","type":"quantitative","axis":{"orient":"right","title":null,"labels":false,"values":[1,2,3],"tickSize":-17,"domainColor":"black","domainWidth":4,"tickColor":"black","tickWidth":5,"grid":false}}}},
  {"data":{"name":"links"},
   "mark":{"type":"rule","color":"black","strokeWidth":2,"clip":false},
   "encoding":{
    "x":{"field":"t","type":"quantitative","axis":{"orient":"bottom","title":null,"labels":false,"domain":false,"values":[5348,5352,5354,5356,5358,5362,5364,5366,5368,5372,5374,5376,5378,5382,5384,5386,5388,5392,5394,5396,5398,5402,5404,5406,5408,5412,5414,5416,5418],"tickSize":-9,"tickColor":"black","tickWidth":4,"grid":false}},
    "y":{"field":"m","type":"quantitative","axis":{"orient":"left","title":null,"labels":false,"domain":false,"values":[0.5,1.5,2.5],"tickSize":-9,"tickColor":"black","tickWidth":4,"grid":false}},
    "x2":{"field":"t2"},"y2":{"field":"m2"}}},
  {"data":{"name":"lbl"},
   "mark":{"type":"text","align":"right","baseline":"alphabetic","font":"Liberation Serif","fontSize":72,"color":"black"},
   "encoding":{
    "x":{"field":"t","type":"quantitative","axis":{"orient":"top","title":null,"labels":false,"domain":false,"values":[5348,5352,5354,5356,5358,5362,5364,5366,5368,5372,5374,5376,5378,5382,5384,5386,5388,5392,5394,5396,5398,5402,5404,5406,5408,5412,5414,5416,5418],"tickSize":-9,"tickColor":"black","tickWidth":4,"grid":false}},
    "y":{"field":"m","type":"quantitative","axis":{"orient":"right","title":null,"labels":false,"domain":false,"values":[0.5,1.5,2.5],"tickSize":-9,"tickColor":"black","tickWidth":4,"grid":false}},
    "text":{"field":"txt"}}}
 ],
 "resolve":{"axis":{"x":"independent","y":"independent"}}
},
{"hconcat":[
 {"width":17,"height":319,"data":{"values":[{"a":1}]},"mark":{"type":"text","text":" "},"encoding":{}},
 {"width":1673,"height":319,
  "layer":[
   {"data":{"name":"obs"},
    "mark":{"type":"point","shape":"diamond","filled":true,"size":85,"opacity":1,"strokeWidth":0,"clip":true},
    "encoding":{
     "x":{"field":"t","type":"quantitative","scale":{"domain":[5385.5,5393.5],"nice":false,"zero":false},
      "axis":{"orient":"bottom","values":[5386,5387,5388,5389,5390,5391,5392,5393],"format":"d","tickSize":-17,"labelPadding":31,
       "domainColor":"black","domainWidth":4,"tickColor":"black","tickWidth":5,"grid":false,"labelFont":"Liberation Serif","labelFontSize":73,"labelColor":"black","labelFlush":false,"labelOverlap":false,"labelBound":false,
       "title":"JD-2450000","titleFont":"Liberation Serif","titleFontWeight":"normal","titleColor":"black","titleFontSize":73,"titleBaseline":"alphabetic","titleAlign":"center","titleX":833,"titleY":137}},
     "y":{"field":"m","type":"quantitative","scale":{"domain":[0.785,2.367],"nice":false,"zero":false},
      "axis":{"orient":"left","title":null,"values":[1,1.5,2],"format":".1~f","tickSize":-17,"labelPadding":30,
       "domainColor":"black","domainWidth":4,"tickColor":"black","tickWidth":5,"grid":false,"labelFont":"Liberation Serif","labelFontSize":73,"labelColor":"black","labelFlush":false,"labelOverlap":false,"labelBound":false}},
     "color":{"field":"s","type":"nominal","scale":{"domain":["R","G","M"],"range":["#ff0000","#00ff00","#ff00ff"]},"legend":null}}},
   {"data":{"name":"model"},
    "mark":{"type":"line","color":"#222222","strokeWidth":1.5,"interpolate":"monotone","clip":true},
    "encoding":{
     "x":{"field":"t","type":"quantitative","axis":{"orient":"top","title":null,"labels":false,"values":[5386,5387,5388,5389,5390,5391,5392,5393],"tickSize":-17,"domainColor":"black","domainWidth":4,"tickColor":"black","tickWidth":5,"grid":false}},
     "y":{"field":"m","type":"quantitative","axis":{"orient":"right","title":null,"labels":false,"values":[1,1.5,2],"tickSize":-17,"domainColor":"black","domainWidth":4,"tickColor":"black","tickWidth":5,"grid":false}}}},
   {"data":{"name":"boxes"},
    "mark":{"type":"line","color":"#0000ff","strokeWidth":2,"clip":true},
    "encoding":{
     "x":{"field":"t","type":"quantitative","axis":{"orient":"bottom","title":null,"labels":false,"domain":false,"values":[5385.6,5385.8,5386.2,5386.4,5386.6,5386.8,5387.2,5387.4,5387.6,5387.8,5388.2,5388.4,5388.6,5388.8,5389.2,5389.4,5389.6,5389.8,5390.2,5390.4,5390.6,5390.8,5391.2,5391.4,5391.6,5391.8,5392.2,5392.4,5392.6,5392.8,5393.2,5393.4],"tickSize":-9,"tickColor":"black","tickWidth":4,"grid":false}},
     "y":{"field":"m","type":"quantitative","axis":{"orient":"left","title":null,"labels":false,"domain":false,"values":[1.25,1.75,2.25],"tickSize":-9,"tickColor":"black","tickWidth":4,"grid":false}},
     "detail":{"field":"b"},"order":{"field":"o"}}},
   {"data":{"name":"lbl"},
    "mark":{"type":"text","text":" ","clip":true},
    "encoding":{
     "x":{"field":"t","type":"quantitative","axis":{"orient":"top","title":null,"labels":false,"domain":false,"values":[5385.6,5385.8,5386.2,5386.4,5386.6,5386.8,5387.2,5387.4,5387.6,5387.8,5388.2,5388.4,5388.6,5388.8,5389.2,5389.4,5389.6,5389.8,5390.2,5390.4,5390.6,5390.8,5391.2,5391.4,5391.6,5391.8,5392.2,5392.4,5392.6,5392.8,5393.2,5393.4],"tickSize":-9,"tickColor":"black","tickWidth":4,"grid":false}},
     "y":{"field":"m","type":"quantitative","axis":{"orient":"right","title":null,"labels":false,"domain":false,"values":[1.25,1.75,2.25],"tickSize":-9,"tickColor":"black","tickWidth":4,"grid":false}}}}
  ],
  "resolve":{"axis":{"x":"independent","y":"independent"}}}
 ],
 "spacing":0,"bounds":"flush","align":"none"}
],
"spacing":110,"bounds":"flush","align":"none"
}
